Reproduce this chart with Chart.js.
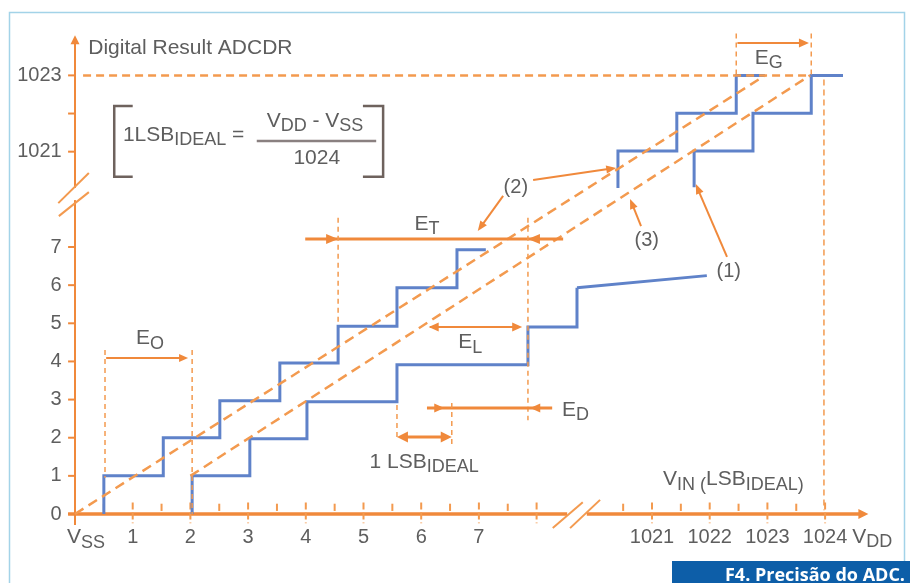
<!DOCTYPE html>
<html lang="pt">
<head>
<meta charset="UTF-8">
<title>Precisão do ADC</title>
<script src="https://cdn.jsdelivr.net/npm/chart.js"></script>
<style>
  html, body { margin: 0; padding: 0; background: #fff; }
  #wrap { width: 910px; height: 583px; position: relative; }
</style>
</head>
<body>
<div id="wrap"><canvas id="adcChart"></canvas></div>
<script>
// transfer curves: transition input (LSB) and output code, drawn stepped
const upperLowX = [0.5, 1.53, 2.51, 3.55, 4.56, 5.58, 6.62, 7.12];
const upperLowY = [0, 1, 2, 2.97, 3.96, 4.92, 5.93, 6.93];
const lowerLowX = [2.03, 3.03, 4.02, 5.58, 7.85, 8.7, 8.7];
const lowerLowY = [0, 1, 1.97, 2.94, 3.91, 4.9, 5.93];
const tailX = [8.7, 1021.95];
const tailY = [5.93, 6.25];
const upperHighX = [1020.41, 1021.43, 1022.46, 1022.96];
const upperHighY = [1020.05, 1021.02, 1022.01, 1023];
const lowerHighX = [1021.73, 1022.75, 1023.76, 1024.31];
const lowerHighY = [1020.07, 1021.02, 1022.01, 1023];

// ideal (dashed) lines and full-scale guides
const ideal2X = [0, 1022.96];
const ideal2Y = [0, 1023];
const ideal3X = [2, 1023.74];
const ideal3Y = [1, 1023];
const fullScaleX = [0.14, 1023.74];
const fullScaleY = [1023, 1023];
const vddX = [1023.98, 1023.98];
const vddY = [1022.89, 0.1];

// axis ticks
const xMajor = [1, 2, 3, 4, 5, 6, 7, 8, 1021, 1022, 1023, 1024];
const xLabels = ['1', '2', '3', '4', '5', '6', '7', '', '1021', '1022', '1023', '1024'];
const xMinor = [0.5, 1.5, 2.5, 3.5, 4.5, 5.5, 6.5, 7.5, 1020.5, 1021.5, 1022.5, 1023.5];
const yTicks = [0, 1, 2, 3, 4, 5, 6, 7, 1021, 1022, 1023];
const yLabels = ['0', '1', '2', '3', '4', '5', '6', '7', '1021', '', '1023'];

const ORANGE = '#f0893b';
const DASH = '#f39a4f';
const BLUE = '#5f82c9';
const TEXT = '#5e5e5e';
const FONT = '"Liberation Sans", Arial, sans-serif';

// broken axes: low codes on the left/bottom, top codes after the break
function bx(v) { return v < 100 ? v : v - 1011; }
function by(v) { return v < 100 ? v : v - 1011.5; }
function pts(xs, ys) { return xs.map((x, i) => ({ x: bx(x), y: by(ys[i]) })); }

function series(xs, ys, color, width, stepped, dash) {
    return {
        data: pts(xs, ys),
        borderColor: color,
        borderWidth: width,
        borderDash: dash || [],
        stepped: stepped || false,
        pointRadius: 0,
        fill: false,
        tension: 0,
        borderJoinStyle: 'miter'
    };
}

function seg(c, a, b, w, color, dash) {
    c.beginPath();
    c.setLineDash(dash || []);
    c.lineWidth = w;
    c.strokeStyle = color;
    c.moveTo(a[0], a[1]);
    c.lineTo(b[0], b[1]);
    c.stroke();
    c.setLineDash([]);
}

function head(c, from, tip, len, wid, color) {
    const a = Math.atan2(tip[1] - from[1], tip[0] - from[0]);
    const bxp = tip[0] - len * Math.cos(a), byp = tip[1] - len * Math.sin(a);
    c.fillStyle = color;
    c.beginPath();
    c.moveTo(tip[0], tip[1]);
    c.lineTo(bxp + wid * Math.sin(a), byp - wid * Math.cos(a));
    c.lineTo(bxp - wid * Math.sin(a), byp + wid * Math.cos(a));
    c.closePath();
    c.fill();
}

// parts: [text, 0 normal | 1 subscript]
function rich(c, parts, x, y, align, size) {
    size = size || 21;
    const sub = Math.round(size * 0.86);
    let w = 0;
    parts.forEach(p => {
        c.font = (p[1] ? sub : size) + 'px ' + FONT;
        w += c.measureText(p[0]).width;
    });
    let cx = align === 'center' ? x - w / 2 : align === 'right' ? x - w : x;
    c.textAlign = 'left';
    c.textBaseline = 'middle';
    c.fillStyle = TEXT;
    parts.forEach(p => {
        c.font = (p[1] ? sub : size) + 'px ' + FONT;
        c.fillText(p[0], cx, y + (p[1] ? size * 0.25 : 0));
        cx += c.measureText(p[0]).width;
    });
}

const drawing = {
    id: 'drawing',
    beforeDatasetsDraw(chart) {
        const c = chart.ctx;
        const P = (vx, vy) => [chart.scales.x.getPixelForValue(bx(vx)), chart.scales.y.getPixelForValue(by(vy))];
        c.save();

        // frame
        c.strokeStyle = '#a3d3e8';
        c.lineWidth = 1.5;
        c.strokeRect(9.5, 12.5, 895, 600);

        // y axis with break
        seg(c, P(0, -0.29), P(0, 12.4), 2, ORANGE);
        head(c, P(0, 11), P(0, 12.55), 9, 4.5, ORANGE);
        c.fillStyle = '#fff';
        const g1 = P(0, 8.55), g2 = P(0, 8.23);
        c.fillRect(g1[0] - 3, g1[1], 6, g2[1] - g1[1]);
        seg(c, P(-0.29, 8.15), P(0.24, 8.94), 2, DASH);
        seg(c, P(-0.28, 7.81), P(0.24, 8.44), 2, DASH);
        yTicks.forEach((v, i) => {
            seg(c, P(-0.12, v), P(0, v), 2, ORANGE);
            if (yLabels[i]) {
                const p = P(-0.23, v);
                c.font = '20px ' + FONT;
                c.fillStyle = TEXT;
                c.textAlign = 'right';
                c.textBaseline = 'middle';
                c.fillText(yLabels[i], p[0], p[1]);
            }
        });

        // x axis with break
        seg(c, P(-0.12, 0), P(8.53, 0), 3.5, ORANGE);
        seg(c, P(1019.87, 0), P(1024.62, 0), 3.5, ORANGE);
        head(c, P(1023, 0), P(1024.75, 0), 10, 5, ORANGE);
        seg(c, P(8.28, -0.37), P(8.8, 0.31), 2, DASH);
        seg(c, P(8.58, -0.37), P(9.1, 0.37), 2, DASH);
        xMinor.forEach(v => seg(c, P(v, 0.27), P(v, 0.08), 2, DASH));
        xMajor.forEach((v, i) => {
            seg(c, P(v, 0.3), P(v, -0.24), 2, DASH, [7, 3]);
            if (xLabels[i]) {
                const p = P(v, -0.62);
                c.font = '20px ' + FONT;
                c.fillStyle = TEXT;
                c.textAlign = 'center';
                c.textBaseline = 'middle';
                c.fillText(xLabels[i], p[0], p[1]);
            }
        });
        c.restore();
    },
    afterDatasetsDraw(chart) {
        const c = chart.ctx;
        const P = (vx, vy) => [chart.scales.x.getPixelForValue(bx(vx)), chart.scales.y.getPixelForValue(by(vy))];
        const thin = [5, 4];
        c.save();

        // axis titles
        let p = P(0.23, 12.22);
        c.font = '21px ' + FONT;
        c.fillStyle = TEXT;
        c.textAlign = 'left';
        c.textBaseline = 'middle';
        c.fillText('Digital Result ADCDR', p[0], p[1]);
        p = P(-0.14, -0.62);
        rich(c, [['V', 0], ['SS', 1]], p[0], p[1], 'left');
        p = P(1024.47, -0.6);
        rich(c, [['V', 0], ['DD', 1]], p[0], p[1], 'left');
        p = P(1021.19, 0.9);
        rich(c, [['V', 0], ['IN (', 1], ['LSB', 0], ['IDEAL)', 1]], p[0], p[1], 'left');

        // formula box
        c.strokeStyle = '#6e625d';
        c.lineWidth = 2.5;
        let a = P(1.0, 10.7), b = P(0.68, 8.84);
        c.beginPath();
        c.moveTo(a[0], a[1]); c.lineTo(b[0], a[1]); c.lineTo(b[0], b[1]); c.lineTo(a[0], b[1]);
        c.stroke();
        a = P(4.99, 10.7); b = P(5.34, 8.84);
        c.beginPath();
        c.moveTo(a[0], a[1]); c.lineTo(b[0], a[1]); c.lineTo(b[0], b[1]); c.lineTo(a[0], b[1]);
        c.stroke();
        p = P(0.83, 9.93);
        rich(c, [['1LSB', 0], ['IDEAL', 1], [' =', 0]], p[0], p[1], 'left');
        seg(c, P(3.15, 9.78), P(5.22, 9.78), 2.5, '#8a8080');
        p = P(4.16, 10.3);
        rich(c, [['V', 0], ['DD', 1], [' - ', 0], ['V', 0], ['SS', 1]], p[0], p[1], 'center');
        p = P(4.19, 9.33);
        rich(c, [['1024', 0]], p[0], p[1], 'center');

        // E_O
        seg(c, P(0.52, 4.3), P(0.52, 0.95), 1.5, DASH, thin);
        seg(c, P(2.03, 4.3), P(2.03, 0), 1.5, DASH, thin);
        seg(c, P(0.54, 4.09), P(1.85, 4.09), 1.8, ORANGE);
        head(c, P(0.54, 4.09), P(1.96, 4.09), 9, 4, ORANGE);
        p = P(1.3, 4.6);
        rich(c, [['E', 0], ['O', 1]], p[0], p[1], 'center');

        // E_T
        seg(c, P(3.99, 7.21), P(8.46, 7.21), 3, ORANGE);
        head(c, P(3.9, 7.21), P(4.56, 7.21), 12, 5, ORANGE);
        head(c, P(8.5, 7.21), P(7.85, 7.21), 12, 5, ORANGE);
        seg(c, P(4.56, 7.77), P(4.56, 4.99), 1.5, DASH, thin);
        seg(c, P(7.85, 7.77), P(7.85, 2.46), 1.5, DASH, thin);
        p = P(6.1, 7.6);
        rich(c, [['E', 0], ['T', 1]], p[0], p[1], 'center');

        // E_L
        seg(c, P(6.15, 4.9), P(7.7, 4.9), 2, ORANGE);
        head(c, P(6.6, 4.9), P(6.13, 4.9), 10, 4.5, ORANGE);
        head(c, P(7.3, 4.9), P(7.75, 4.9), 10, 4.5, ORANGE);
        p = P(6.85, 4.5);
        rich(c, [['E', 0], ['L', 1]], p[0], p[1], 'center');

        // E_D
        seg(c, P(6.1, 2.78), P(8.27, 2.78), 3, ORANGE);
        head(c, P(6.1, 2.78), P(6.4, 2.78), 10, 4.5, ORANGE);
        head(c, P(8.27, 2.78), P(7.89, 2.78), 10, 4.5, ORANGE);
        p = P(8.44, 2.72);
        rich(c, [['E', 0], ['D', 1]], p[0], p[1], 'left');

        // 1 LSB ideal
        seg(c, P(5.58, 2.86), P(5.58, 1.94), 1.5, DASH, thin);
        seg(c, P(6.53, 2.91), P(6.53, 1.75), 1.5, DASH, thin);
        seg(c, P(5.7, 2.02), P(6.4, 2.02), 3, ORANGE);
        head(c, P(6.2, 2.02), P(5.58, 2.02), 11, 5.5, ORANGE);
        head(c, P(5.9, 2.02), P(6.53, 2.02), 11, 5.5, ORANGE);
        p = P(6.05, 1.36);
        rich(c, [['1 LSB', 0], ['IDEAL', 1]], p[0], p[1], 'center');

        // E_G
        seg(c, P(1022.46, 1024.1), P(1022.46, 1023), 1.5, DASH, thin);
        seg(c, P(1023.76, 1024.1), P(1023.76, 1023), 1.5, DASH, thin);
        seg(c, P(1022.48, 1023.85), P(1023.6, 1023.85), 2, ORANGE);
        head(c, P(1022.48, 1023.85), P(1023.72, 1023.85), 10, 4.5, ORANGE);
        p = P(1022.78, 1023.45);
        rich(c, [['E', 0], ['G', 1]], p[0], p[1], 'left');

        // callouts
        p = P(7.64, 8.55);
        rich(c, [['(2)', 0]], p[0], p[1], 'center', 20);
        seg(c, P(7.94, 8.76), P(1020.3, 9.06), 2, ORANGE);
        head(c, P(7.94, 8.76), P(1020.38, 9.07), 10, 4, ORANGE);
        seg(c, P(7.42, 8.34), P(7.03, 7.52), 2, ORANGE);
        head(c, P(7.42, 8.34), P(6.98, 7.42), 10, 4, ORANGE);
        p = P(1020.91, 7.16);
        rich(c, [['(3)', 0]], p[0], p[1], 'center', 20);
        seg(c, P(1020.81, 7.55), P(1020.65, 8.15), 2, ORANGE);
        head(c, P(1020.81, 7.55), P(1020.62, 8.26), 10, 4, ORANGE);
        p = P(1022.33, 6.37);
        rich(c, [['(1)', 0]], p[0], p[1], 'center', 20);
        seg(c, P(1022.3, 6.74), P(1021.8, 8.5), 2, ORANGE);
        head(c, P(1022.3, 6.74), P(1021.76, 8.65), 10, 4, ORANGE);

        // caption bar
        c.fillStyle = '#0d5ea8';
        c.fillRect(672, 561, 238, 22);
        c.fillStyle = '#fff';
        c.font = 'bold 18px "Open Sans", sans-serif';
        c.textAlign = 'right';
        c.textBaseline = 'alphabetic';
        c.fillText('F4. Precisão do ADC.', 905, 581);
        c.restore();
    }
};

const X0 = 75, PXX = 57.7, Y0 = 514, PXY = 38.14;
const W = 910, H = 583;

new Chart(document.getElementById('adcChart'), {
    type: 'line',
    data: {
        datasets: [
            series(fullScaleX, fullScaleY, DASH, 2.5, false, [8, 5]),
            series(vddX, vddY, DASH, 1.5, false, [6, 4]),
            series(ideal2X, ideal2Y, DASH, 2.5, false, [10, 6]),
            series(ideal3X, ideal3Y, DASH, 2.5, false, [10, 6]),
            series(upperLowX, upperLowY, BLUE, 3, 'after'),
            series(lowerLowX, lowerLowY, BLUE, 3, 'after'),
            series(tailX, tailY, BLUE, 3),
            series(upperHighX, upperHighY, BLUE, 3, 'after'),
            series(lowerHighX, lowerHighY, BLUE, 3, 'after')
        ]
    },
    options: {
        responsive: true,
        maintainAspectRatio: false,
        animation: false,
        layout: { padding: 0 },
        plugins: {
            legend: { display: false },
            tooltip: { enabled: false }
        },
        scales: {
            x: { type: 'linear', display: false, min: -X0 / PXX, max: (W - X0) / PXX },
            y: { type: 'linear', display: false, min: -(H - Y0) / PXY, max: Y0 / PXY }
        }
    },
    plugins: [drawing]
});
</script>
</body>
</html>
